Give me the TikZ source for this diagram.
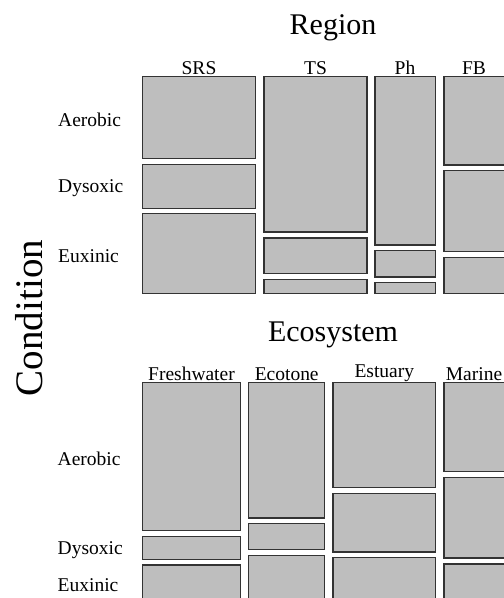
\documentclass[tikz,border=0pt]{standalone}
\usepackage{fontspec}
\setmainfont{Liberation Serif}
\definecolor{boxgray}{HTML}{BEBEBE}
\definecolor{boxline}{HTML}{333333}
\tikzset{
  cell/.style={draw=boxline, fill=boxgray, line width=1.3pt},
  maintitle/.style={font=\fontsize{30}{36}\selectfont, anchor=base, inner sep=0pt},
  collabel/.style={font=\fontsize{19.5}{23}\selectfont, anchor=base, inner sep=0pt},
  rowlabel/.style={font=\fontsize{19.5}{23}\selectfont, anchor=base west, inner sep=0pt},
  axistitle/.style={font=\fontsize{39}{45}\selectfont, anchor=base, rotate=90, inner sep=0pt}
}
\newcommand\mycell[4]{\draw[cell] (#1,#2) rectangle (#3,#4);}
\begin{document}
\begin{tikzpicture}[x=1pt,y=-1pt]
\useasboundingbox (0,0) rectangle (504,598);
\clip (0,0) rectangle (504,598);
\fill[white] (0,0) rectangle (504,598);

% ---- top panel: Region ----
\node[maintitle] (region) at (333,34) {Region};
\node[collabel] (srs) at (199,74) {SRS};
\node[collabel] (ts) at (315.5,74) {TS};
\node[collabel] (ph) at (405,74) {Ph};
\node[collabel] (fb) at (474,74) {FB};

\mycell{142.6}{76.6}{255.4}{158.7}
\mycell{142.6}{164.6}{255.4}{208.4}
\mycell{142.6}{213.6}{255.4}{293.4}

\mycell{263.9}{76.6}{366.9}{232.1}
\mycell{263.9}{237.9}{366.9}{273.4}
\mycell{263.9}{279.3}{366.9}{293.4}

\mycell{374.9}{76.6}{435.4}{245.1}
\mycell{374.9}{250.6}{435.4}{277.1}
\mycell{374.9}{282.6}{435.4}{293.4}

\mycell{443.9}{76.6}{507}{165.1}
\mycell{443.9}{170.6}{507}{251.7}
\mycell{443.9}{257.6}{507}{293.4}

\node[rowlabel] (aer1) at (58,126) {Aerobic};
\node[rowlabel] (dys1) at (58,192) {Dysoxic};
\node[rowlabel] (eux1) at (58,262) {Euxinic};

% ---- bottom panel: Ecosystem ----
\node[maintitle] (ecosystem) at (333,341) {Ecosystem};
\node[collabel] (fresh) at (191.5,380) {Freshwater};
\node[collabel] (ecot) at (286.7,380) {Ecotone};
\node[collabel] (estu) at (384.3,377.5) {Estuary};
\node[collabel] (mar) at (474,380.5) {Marine};

\mycell{142.3}{382.6}{240.4}{530.7}
\mycell{142.3}{536.3}{240.4}{559.4}
\mycell{142.3}{564.9}{240.4}{603}

\mycell{248.6}{382.6}{324.7}{518.1}
\mycell{248.6}{523.6}{324.7}{549.4}
\mycell{248.6}{555.3}{324.7}{603}

\mycell{332.9}{382.6}{435.7}{487.7}
\mycell{332.9}{493.3}{435.7}{552.1}
\mycell{332.9}{557.6}{435.7}{603}

\mycell{443.9}{382.6}{507}{471.7}
\mycell{443.9}{477.3}{507}{558.1}
\mycell{443.9}{563.9}{507}{603}

\node[rowlabel] (aer2) at (57.5,465) {Aerobic};
\node[rowlabel] (dys2) at (57.5,554) {Dysoxic};
\node[rowlabel] (eux2) at (57.5,591.5) {Euxinic};

% ---- shared axis title ----
\node[axistitle] (cond) at (42,318) {Condition};
\end{tikzpicture}
\end{document}
